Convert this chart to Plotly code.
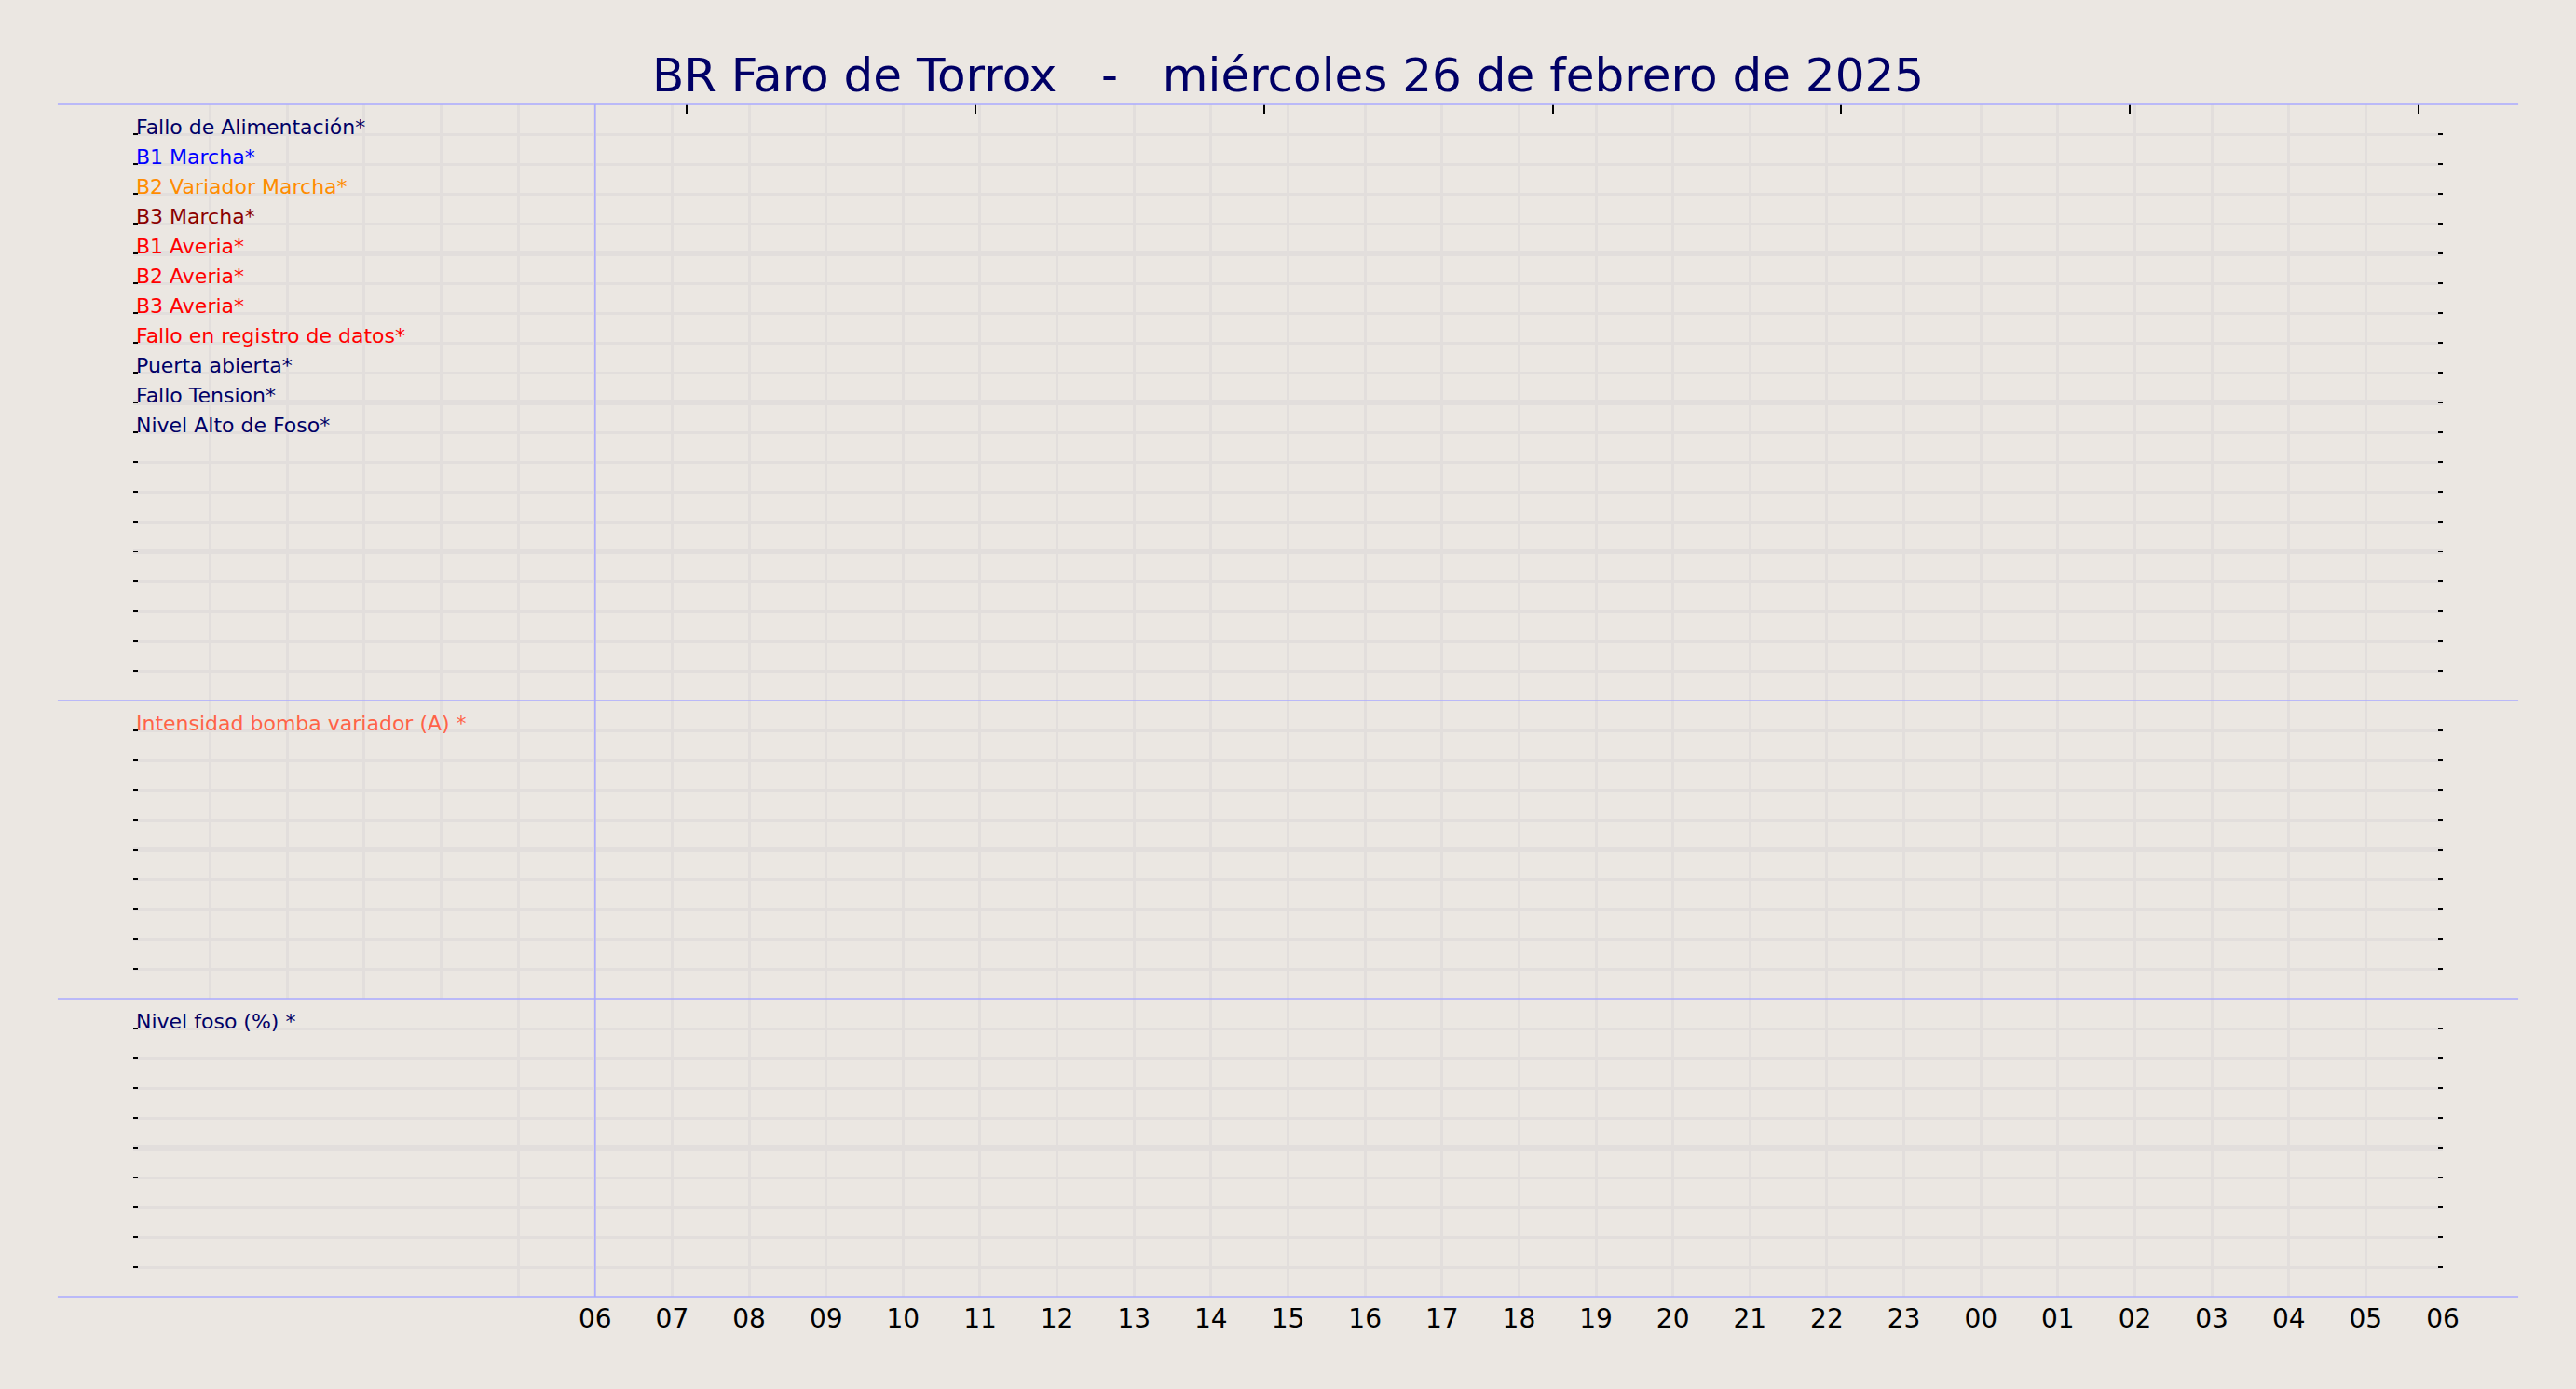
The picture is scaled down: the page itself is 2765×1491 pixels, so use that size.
import plotly.graph_objects as go
import pandas as pd

# Titulo y periodo mostrado
TITLE = "BR Faro de Torrox   -   miércoles 26 de febrero de 2025"
DAY_START = "2025-02-26 00:00"
DAY_END = "2025-02-27 06:00"
SHIFT_START = "2025-02-26 06:00"

# Etiquetas horarias del eje X (las 6 primeras horas sin texto)
X_TICK_LABELS = ["", "", "", "", "", "",
                 "06", "07", "08", "09", "10", "11", "12", "13", "14", "15",
                 "16", "17", "18", "19", "20", "21", "22", "23",
                 "00", "01", "02", "03", "04", "05", "06"]

# Señales digitales (panel superior)
DIGITAL_SIGNALS = ["Fallo de Alimentación*", "B1 Marcha*", "B2 Variador Marcha*", "B3 Marcha*",
                   "B1 Averia*", "B2 Averia*", "B3 Averia*", "Fallo en registro de datos*",
                   "Puerta abierta*", "Fallo Tension*", "Nivel Alto de Foso*"]
DIGITAL_COLORS = ["#000066", "#0000ff", "#ff8c00", "#8b0000",
                  "#ff0000", "#ff0000", "#ff0000", "#ff0000",
                  "#000066", "#000066", "#000066"]
DIGITAL_ROWS = 20

# Señales analógicas (paneles central e inferior)
ANALOG_MID = ["Intensidad bomba variador (A) *"]
ANALOG_MID_COLORS = ["#ff6347"]
ANALOG_LOW = ["Nivel foso (%) *"]
ANALOG_LOW_COLORS = ["#000066"]
ANALOG_ROWS = 10

# Eje superior auxiliar
TOP_AXIS_RANGE = [-0.9168, 7.0832]

BG = "#ebe7e2"
GRID = "#e2dedc"
FRAME = "#aaaaff"
FONT = "DejaVu Sans"


def row_labels(names, colors, rows):
    texts = [f'<span style="color:{c}">{n}</span>' for n, c in zip(names, colors)]
    texts += [""] * (rows - len(texts))
    return list(range(1, rows + 1)), texts


def y_axis(domain, names, colors, rows):
    vals, texts = row_labels(names, colors, rows)
    return dict(domain=domain, anchor="x", range=[rows, 0], tickmode="array",
                tickvals=vals, ticktext=texts, ticks="inside", ticklen=5, tickwidth=2,
                tickcolor="black", mirror="ticks", ticklabelposition="inside top",
                ticklabelshift=-9,
                tickfont=dict(family=FONT, size=22, color="#000066"),
                showgrid=True, gridcolor=GRID, gridwidth=2.5, zeroline=False, showline=False)


def y_major(overlay, rows):
    return dict(overlaying=overlay, anchor="x", range=[rows, 0], tickmode="linear",
                tick0=0, dtick=5, showticklabels=False, ticks="", showgrid=True,
                gridcolor=GRID, gridwidth=6, zeroline=False, showline=False)


hours = pd.date_range(DAY_START, DAY_END, freq="h")

fig = go.Figure()
for xa, ya in [("x", "y"), ("x", "y2"), ("x", "y3"), ("x", "y4"), ("x", "y5"), ("x", "y6"), ("x2", "y")]:
    fig.add_trace(go.Scatter(x=[], y=[], xaxis=xa, yaxis=ya, showlegend=False, hoverinfo="skip"))

fig.update_layout(
    width=2765, height=1491,
    paper_bgcolor=BG, plot_bgcolor=BG,
    margin=dict(l=143, r=143, t=112, b=99),
    title=dict(text=TITLE, x=0.5, xanchor="center", xref="paper",
               y=1 - 80.8 / 1491, yref="container", yanchor="middle",
               font=dict(family=FONT, size=50, color="#000066")),
    xaxis=dict(type="date", anchor="y3", domain=[0, 1], range=[DAY_START, DAY_END],
               tickmode="array", tickvals=list(hours), ticktext=X_TICK_LABELS,
               ticks="", ticklabelstandoff=4, showgrid=True, gridcolor=GRID, gridwidth=2.5,
               zeroline=False, tickfont=dict(family=FONT, size=28, color="black")),
    xaxis2=dict(overlaying="x", anchor="y", side="top", range=TOP_AXIS_RANGE,
                tickmode="linear", tick0=0, dtick=1, ticks="inside", ticklen=10,
                tickwidth=1.5, tickcolor="black", showticklabels=False, showgrid=False,
                zeroline=False),
    yaxis=y_axis([0.5, 1.0], DIGITAL_SIGNALS, DIGITAL_COLORS, DIGITAL_ROWS),
    yaxis2=y_axis([0.25, 0.5], ANALOG_MID, ANALOG_MID_COLORS, ANALOG_ROWS),
    yaxis3=y_axis([0.0, 0.25], ANALOG_LOW, ANALOG_LOW_COLORS, ANALOG_ROWS),
    yaxis4=y_major("y", DIGITAL_ROWS),
    yaxis5=y_major("y2", ANALOG_ROWS),
    yaxis6=y_major("y3", ANALOG_ROWS),
    font=dict(family=FONT),
)

# Lineas de separacion de paneles y marca de inicio de jornada
for yb in [1.0, 0.5, 0.25, 0.0]:
    fig.add_shape(type="line", xref="paper", yref="paper", x0=-0.0327, x1=1.0327,
                  y0=yb, y1=yb, line=dict(color=FRAME, width=1.5), layer="above")
fig.add_shape(type="line", xref="x", yref="paper", x0=SHIFT_START, x1=SHIFT_START,
              y0=0, y1=1, line=dict(color=FRAME, width=1.5), layer="above")

# Pagina sin margen blanco alrededor de la figura
fig.write_html("out.html", config={"displayModeBar": False},
               post_script=f"document.body.style.margin='0';document.body.style.background='{BG}';")
